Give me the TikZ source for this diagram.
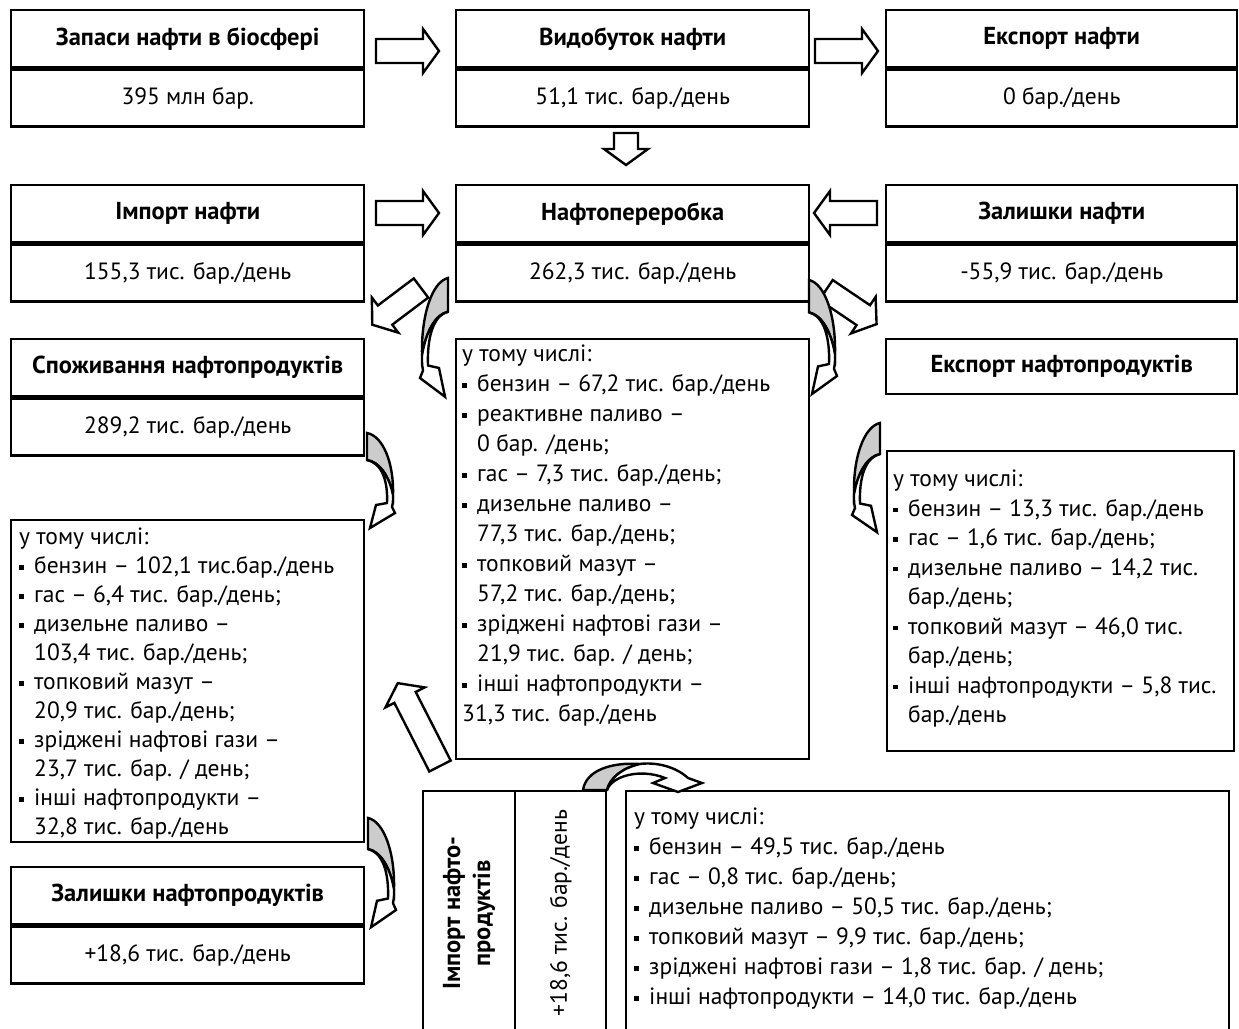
\documentclass[tikz,border=0pt]{standalone}
\usepackage{fontspec}
\setmainfont{PT Sans}
\usetikzlibrary{positioning}

\newcommand{\dsize}{\fontsize{23.5}{30}\selectfont}
\newcommand{\bsize}{\fontsize{24.5}{30}\selectfont\bfseries}
\newcommand{\sq}{\makebox[15pt][l]{\raisebox{4pt}{\rule{4.5pt}{4.5pt}}}}
\newcommand{\ind}{\hspace*{15pt}}

\tikzset{
  bline/.style={line width=2.4pt},
  box/.style={draw, bline, anchor=north west, inner sep=0pt,
    minimum width=353pt, minimum height=57pt, font=\dsize},
  headbox/.style={box, font=\bsize},
  listtext/.style={anchor=north west, inner sep=0pt, align=left, font=\dsize},
  pics/blockarrow/.style={code={
    \draw[bline, fill=white] (0,-12) -- (#1,-12) -- (#1,-22) -- (#1+16,0)
      -- (#1,22) -- (#1,12) -- (0,12) -- cycle;
  }},
  pics/bendarrow/.style={code={
    \draw[bline, fill=black!20] (0,0) .. controls (16,3) and (27,30) .. (26,62)
      .. controls (22,42) and (12,29) .. (0,27) -- cycle;
    \draw[bline, fill=white] (0,27) .. controls (15,30) and (21,48) .. (20,70)
      -- (9,72) -- (3,95) -- (28,80) -- (25,74) .. controls (26,70) .. (26,62)
      .. controls (22,42) and (12,29) .. (0,27) -- cycle;
  }},
}

\begin{document}
\begin{tikzpicture}[x=1pt, y=-1pt]
  \useasboundingbox (0,0) rectangle (1239,1028);
  %% crude oil
  \node[headbox] (stock) at (10,9) {Запаси нафти в біосфері};
  \node[box, below=0pt of stock] (stockval) {395 млн бар.};
  \node[headbox] (extract) at (455,9) {Видобуток нафти};
  \node[box, below=0pt of extract] (extractval) {51,1 тис. бар./день};
  \node[headbox, minimum width=351pt] (crudeexp) at (885,9) {Експорт нафти};
  \node[box, minimum width=351pt, below=0pt of crudeexp] (crudeexpval) {0 бар./день};
  \node[headbox] (crudeimp) at (10,184) {Імпорт нафти};
  \node[box, below=0pt of crudeimp] (crudeimpval) {155,3 тис. бар./день};
  \node[headbox] (refine) at (455,184) {Нафтопереробка};
  \node[box, below=0pt of refine] (refineval) {262,3 тис. бар./день};
  \node[headbox, minimum width=351pt] (crudestock) at (885,184) {Залишки нафти};
  \node[box, minimum width=351pt, below=0pt of crudestock] (crudestockval) {-55,9 тис. бар./день};
  %% products
  \node[headbox] (consum) at (10,338) {Споживання нафтопродуктів};
  \node[box, below=0pt of consum] (consumval) {289,2 тис. бар./день};
  \node[headbox, minimum width=351pt, minimum height=55pt] (prodexp) at (885,338) {Експорт нафтопродуктів};
  \node[headbox] (prodstock) at (10,866) {Залишки нафтопродуктів};
  \node[box, below=0pt of prodstock] (prodstockval) {+18,6 тис. бар./день};
  %% lists
  \node[box, minimum height=420pt] (refinelist) at (455,338) {};
  \node[listtext] (refinetext) at (462,345) {у тому числі:\\
    \sq бензин – 67,2 тис. бар./день\\
    \sq реактивне паливо –\\
    \ind 0 бар. /день;\\
    \sq гас – 7,3 тис. бар./день;\\
    \sq дизельне паливо –\\
    \ind 77,3 тис. бар./день;\\
    \sq топковий мазут –\\
    \ind 57,2 тис. бар./день;\\
    \sq зріджені нафтові гази –\\
    \ind 21,9 тис. бар. / день;\\
    \sq інші нафтопродукти –\\
    31,3 тис. бар./день};
  \node[box, minimum height=322pt] (consumlist) at (10,519) {};
  \node[listtext, font=\fontsize{23.5}{29}\selectfont] (consumtext) at (19,528) {у тому числі:\\
    \sq бензин – 102,1 тис.бар./день\\
    \sq гас – 6,4 тис. бар./день;\\
    \sq дизельне паливо –\\
    \ind 103,4 тис. бар./день;\\
    \sq топковий мазут –\\
    \ind 20,9 тис. бар./день;\\
    \sq зріджені нафтові гази –\\
    \ind 23,7 тис. бар. / день;\\
    \sq інші нафтопродукти –\\
    \ind 32,8 тис. бар./день};
  \node[box, minimum width=347pt, minimum height=300pt] (exportlist) at (886,450) {};
  \node[listtext, font=\fontsize{23.5}{29.5}\selectfont] (exporttext) at (893,470) {у тому числі:\\
    \sq бензин – 13,3 тис. бар./день\\
    \sq гас – 1,6 тис. бар./день;\\
    \sq дизельне паливо – 14,2 тис.\\
    \ind бар./день;\\
    \sq топковий мазут – 46,0 тис.\\
    \ind бар./день;\\
    \sq інші нафтопродукти – 5,8 тис.\\
    \ind бар./день};
  %% import of products
  \node[box, minimum width=92pt, minimum height=244pt] (importhead) at (422,790)
    {\rotatebox{90}{\bsize\begin{tabular}{@{}c@{}}Імпорт нафто-\\продуктів\end{tabular}}};
  \node[box, minimum width=91pt, minimum height=244pt] (importval) at (514,790)
    {\rotatebox{90}{+18,6 тис. бар./день}};
  \node[box, minimum width=603pt, minimum height=244pt] (importlist) at (625,790) {};
  \node[listtext] (importtext) at (634,808) {у тому числі:\\
    \sq бензин – 49,5 тис. бар./день\\
    \sq гас – 0,8 тис. бар./день;\\
    \sq дизельне паливо – 50,5 тис. бар./день;\\
    \sq топковий мазут – 9,9 тис. бар./день;\\
    \sq зріджені нафтові гази – 1,8 тис. бар. / день;\\
    \sq інші нафтопродукти – 14,0 тис. бар./день};
  %% straight arrows
  \pic at (376,51) {blockarrow=47};
  \pic at (815,51) {blockarrow=47};
  \pic[rotate=-90] at (626,133) {blockarrow=16};
  \pic at (376,213) {blockarrow=47};
  \pic[rotate=180] at (877,213) {blockarrow=47};
  \pic[rotate=217] at (421,288) {blockarrow=45};
  \pic[rotate=-34] at (826,290) {blockarrow=45};
  \pic[rotate=117] at (440,766) {blockarrow=77};
  %% curved arrows
  \pic[xscale=-1, yscale=1.25] at (448,278) {bendarrow};
  \pic[yscale=1.2] at (809,280) {bendarrow};
  \pic at (367,433) {bendarrow};
  \pic[xscale=-1, yscale=1.15] at (880,423) {bendarrow};
  \pic[yscale=1.15] at (368,818) {bendarrow};
  \draw[bline, fill=black!20] (583,790) .. controls (586,770) and (612,762) .. (640,764)
    .. controls (622,768) and (610,778) .. (607,790) -- cycle;
  \draw[bline, fill=white] (607,790) .. controls (612,776) and (640,768) .. (665,778)
    -- (653,783) -- (678,792) -- (702,783) -- (688,778)
    .. controls (675,766) and (655,762) .. (640,764)
    .. controls (622,768) and (610,778) .. (607,790) -- cycle;
\end{tikzpicture}
\end{document}
